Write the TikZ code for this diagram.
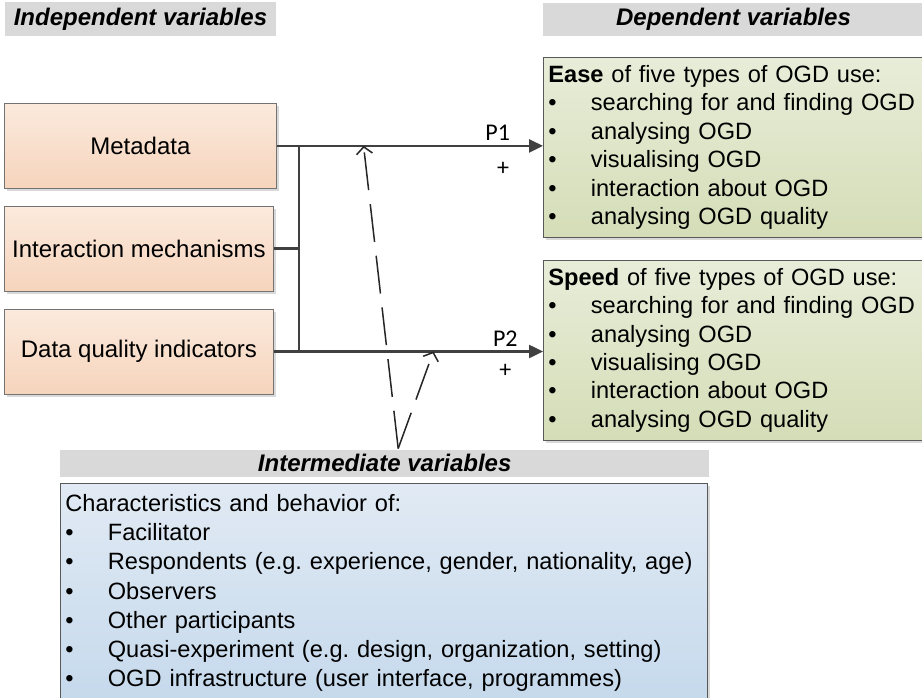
\documentclass[tikz,border=0pt]{standalone}
\usepackage{fontspec}
\setmainfont{Liberation Sans}
\newfontfamily\calibrifont{Carlito}
\usepackage{tikz}
\usetikzlibrary{
  arrows.meta,
  calc,
  positioning,
  shadows,
}
\definecolor{headgray}{RGB}{217,217,217}
\definecolor{peachtop}{RGB}{251,234,221}
\definecolor{peachbot}{RGB}{246,212,188}
\definecolor{greentop}{RGB}{232,237,217}
\definecolor{greenbot}{RGB}{212,221,183}
\definecolor{bluetop}{RGB}{225,234,244}
\definecolor{bluebot}{RGB}{197,217,236}
\definecolor{linegray}{RGB}{64,64,64}
\newcommand{\itm}{\makebox[42.5pt][l]{\textbullet}}
\frenchspacing
\tikzstyle{header} = [
  fill=headgray,
  inner sep=0pt,
  font=\bfseries\itshape\fontsize{24}{28}\selectfont,
]
\tikzstyle{indep} = [
  draw=black!55,
  line width=0.8pt,
  top color=peachtop,
  bottom color=peachbot,
  minimum height=85pt,
  inner sep=0pt,
  font=\fontsize{24}{28}\selectfont,
  drop shadow={shadow xshift=3pt,shadow yshift=-3pt,fill=black!15,opacity=1},
]
\tikzstyle{dep} = [
  draw=black!65,
  line width=0.8pt,
  top color=greentop,
  bottom color=greenbot,
  minimum height=180pt,
  text width=400pt,
  inner xsep=5pt,
  align=left,
  font=\fontsize{23.6}{28.4}\selectfont,
  drop shadow={shadow xshift=3pt,shadow yshift=-3pt,fill=black!15,opacity=1},
]
\tikzstyle{interm} = [
  draw=black!65,
  line width=0.8pt,
  top color=bluetop,
  bottom color=bluebot,
  text width=637pt,
  inner xsep=5pt,
  inner ysep=11pt,
  align=left,
  font=\fontsize{23.6}{29.2}\selectfont,
  drop shadow={shadow xshift=3pt,shadow yshift=-3pt,fill=black!15,opacity=1},
]
\tikzstyle{conn} = [
  line width=2.5pt,
  linegray,
]
\tikzstyle{arrow} = [
  conn,
  -{Triangle[length=14pt,width=13pt]},
]
\tikzstyle{moddash} = [
  line width=1.5pt,
  black!85,
  dash pattern=on 38pt off 14pt,
  -{Straight Barb[length=7pt,width=16pt]},
]
\tikzstyle{plabel} = [
  text=black,
  inner sep=0pt,
  font=\calibrifont\fontsize{24}{28}\selectfont,
]

\begin{document}
\begin{tikzpicture}[x=1pt,y=-1pt]
  \useasboundingbox (0,0) rectangle (922,698);

  % headers
  \node[header,minimum width=271pt,minimum height=34pt] (indhead) at (140.5,19) {Independent variables};
  \node[header,minimum width=381pt,minimum height=33pt] (dephead) at (733.5,19.5) {Dependent variables};

  % independent variables
  \node[indep,minimum width=272pt,anchor=north west] (meta) at (4,103) {Metadata};
  \node[indep,minimum width=269pt] (inter) [below=17pt of meta.south west,anchor=north west] {Interaction mechanisms};
  \node[indep,minimum width=269pt] (dq) [below=17pt of inter.south west,anchor=north west] {Data quality indicators};

  % dependent variables
  \node[dep,anchor=north west] (ease) at (543,57) {\textbf{Ease} of five types of OGD use:\\
    \itm searching for and finding OGD\\
    \itm analysing OGD\\
    \itm visualising OGD\\
    \itm interaction about OGD\\
    \itm analysing OGD quality};
  \node[dep] (speed) [below=22pt of ease] {\textbf{Speed} of five types of OGD use:\\
    \itm searching for and finding OGD\\
    \itm analysing OGD\\
    \itm visualising OGD\\
    \itm interaction about OGD\\
    \itm analysing OGD quality};

  % intermediate variables
  \node[header,minimum width=649pt,minimum height=27pt,anchor=north west] (imhead) at (60,449.5) {Intermediate variables};
  \node[interm] (imbox) [below=6pt of imhead.south west,anchor=north west] {Characteristics and behavior of:\\
    \itm Facilitator\\
    \itm Respondents (e.g. experience, gender, nationality, age)\\
    \itm Observers\\
    \itm Other participants\\
    \itm Quasi-experiment (e.g. design, organization, setting)\\
    \itm OGD infrastructure (user interface, programmes)};

  % connectors
  \coordinate (jtop) at ([xshift=22pt]meta.east);
  \draw[conn] (jtop) -- (jtop |- dq.east);
  \draw[conn] (inter.east) -- (inter.east -| jtop);
  \draw[arrow] (meta.east) -- node[plabel,pos=0.83,yshift=13pt] {P1} node[plabel,pos=0.85,yshift=-23pt] {+} (meta.east -| ease.west);
  \draw[arrow] (dq.east) -- node[plabel,pos=0.86,yshift=13pt] {P2} node[plabel,pos=0.86,yshift=-19pt] {+} (dq.east -| speed.west);

  % moderating effects
  \coordinate (mbase) at ([xshift=13.5pt,yshift=1pt]imhead.north);
  \coordinate (mtip1) at ($(meta.east)!0.326!(meta.east -| ease.west)$);
  \coordinate (mtip2) at ($(dq.east)!0.593!(dq.east -| speed.west)$);
  \draw[moddash] (mbase) -- (mtip1);
  \draw[moddash] (mbase) -- (mtip2);
\end{tikzpicture}
\end{document}
